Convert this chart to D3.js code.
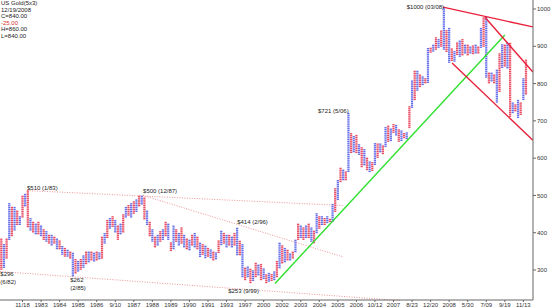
<!DOCTYPE html>
<html>
<head>
<meta charset="utf-8">
<script src="https://cdn.jsdelivr.net/npm/d3@7"></script>
<style>
  body { margin: 0; background: #fff; }
  svg { display: block; font-family: "Liberation Sans", Arial, sans-serif; }
  .info { font-size: 6px; fill: #222; }
  .tick-label { font-size: 6px; fill: #333; }
  .note { font-size: 6px; fill: #222; }
</style>
</head>
<body>
<div id="chart"></div>
<script>
// --- DONNÉES ---
const title = "US Gold(5x3)";
const infoLines = ["12/19/2008", "C=840.00", "-25.00", "H=860.00", "L=840.00"];

// bas / haut de chaque colonne (X et O alternés, la première est un O)
const colLow = [300,305,330,380,390,405,420,420,440,470,414,405,400,395,395,390,380,375,370,365,
  370,355,355,340,335,335,330,282,290,295,300,305,315,320,325,322,325,328,330,370,
  385,410,415,400,380,395,400,440,445,440,450,455,470,475,435,420,390,375,360,365,
  375,380,390,380,350,355,375,365,370,360,355,352,365,360,355,334,340,331,335,331,
  325,328,345,366,370,360,365,360,365,339,339,280,272,280,264,270,280,285,272,275,
  264,268,270,272,280,304,317,320,325,325,330,347,380,385,380,385,385,375,371,398,
  410,420,420,425,428,428,455,487,535,540,540,562,613,615,613,608,575,580,567,562,
  565,581,600,615,610,629,643,645,667,660,643,645,653,650,680,734,755,780,790,795,
  800,801,882,885,890,895,898,890,884,855,860,858,876,871,875,880,875,880,878,880,
  880,895,898,815,800,805,800,748,777,841,845,840,710,720,725,707,715,755,770];
const colHigh = [385,370,385,480,470,470,460,445,500,505,513,438,430,425,430,420,410,405,395,395,
  392,385,380,365,358,355,350,345,330,325,330,340,350,350,352,345,350,348,390,400,
  435,440,445,435,420,425,450,470,475,480,485,490,500,500,495,460,430,410,390,395,
  405,410,430,425,375,420,410,400,414,395,385,380,395,400,390,374,370,366,360,358,
  352,350,380,406,400,393,395,390,400,414,380,371,307,310,304,300,320,315,317,305,
  290,292,290,295,325,374,366,360,355,347,350,380,425,420,415,418,425,415,406,452,
  445,446,440,445,440,479,522,540,573,570,567,723,667,660,665,640,629,625,602,594,
  590,643,640,640,635,683,688,680,694,690,680,675,669,672,742,809,836,836,823,820,
  815,898,898,905,925,920,943,1005,943,948,895,890,911,915,922,905,905,900,902,905,
  900,948,976,978,830,830,825,836,884,908,905,908,908,750,745,755,750,817,863];

const boxSize = 5;

// étiquettes de l'axe des dates (une toutes les 7 colonnes)
const dateLabels = ["11/18","1983","1984","1985","1986","9/10","1987","1988","1989","1990",
  "1991","1993","1997","2000","2002","2003","2004","2005","2006","10/12","2007","8/23",
  "12/20","2008","5/30","7/09","9/19","11/13"];
const priceTicks = [300, 400, 500, 600, 700, 800, 900, 1000];

// lignes de tendance : [colonne, prix]
const greenLine = [[103.3, 264], [190, 930]];
const redLines = [
  [[166.7, 1005], [200.6, 952]],
  [[170.1, 855], [200.6, 648]],
  [[182.5, 978], [200.6, 831]]
];
const dottedLines = [
  [[9.7, 513], [129, 473]],
  [[53.5, 500], [129, 335]],
  [[-0.5, 296], [150.5, 218]]
];

// étiquettes des sommets et creux : [colonne, prix, texte, décalage]
const notes = [
  { col: 0, v: 296, lines: ["$296", "(6/82)"], dx: -1, dy: 5 },
  { col: 9.7, v: 513, lines: ["$510 (1/83)"], dx: 0, dy: -1 },
  { col: 26, v: 262, lines: ["$262", "(2/85)"], dx: 0, dy: -2 },
  { col: 53.5, v: 500, lines: ["$500 (12/87)"], dx: 0, dy: -2 },
  { col: 89, v: 414, lines: ["$414 (2/96)"], dx: 0, dy: -3 },
  { col: 86, v: 253, lines: ["$253 (9/99)"], dx: -1, dy: 5.5 },
  { col: 119.5, v: 721, lines: ["$721  (5/06)"], dx: 0, dy: 0 },
  { col: 153, v: 1000, lines: ["$1000 (03/08)"], dx: 0, dy: 0 }
];

// --- CONFIGURATION ---
const width = 554, height = 308;
const axisX = 533, axisY = 300;

const svg = d3.select("#chart").append("svg")
  .attr("width", width)
  .attr("height", height);

const x = d3.scaleLinear().domain([0, 199]).range([1.3, 528.65]);
const y = d3.scaleLinear().domain([300, 1000]).range([270, 9]);
const colW = x(1) - x(0);
const boxH = Math.abs(y(0) - y(boxSize));

// --- COLONNES (points & figures) ---
const columns = colLow.map((lo, i) => ({ i, lo, hi: colHigh[i], type: i % 2 === 0 ? "O" : "X" }));

const cells = [];
columns.forEach(c => {
  const n = Math.max(1, Math.round((c.hi - c.lo) / boxSize));
  for (let j = 0; j < n; j++) cells.push({ i: c.i, type: c.type, v: c.lo + j * boxSize });
});

svg.append("g")
  .selectAll("rect")
  .data(cells)
  .join("rect")
  .attr("x", d => x(d.i) - colW / 2 + 0.2)
  .attr("width", colW - 0.4)
  .attr("y", d => y(d.v + boxSize) + 0.25)
  .attr("height", boxH - 0.5)
  .attr("fill", d => d.type === "X" ? "#6670ea" : "#ea4c62");

// --- LIGNES DE TENDANCE ---
const line = d3.line().x(d => x(d[0])).y(d => y(d[1]));

svg.append("g")
  .selectAll("path")
  .data(dottedLines)
  .join("path")
  .attr("d", line)
  .attr("fill", "none")
  .attr("stroke", "#e87a80")
  .attr("stroke-width", 0.8)
  .attr("stroke-dasharray", "1,1.5");

svg.append("path")
  .datum(greenLine)
  .attr("d", line)
  .attr("fill", "none")
  .attr("stroke", "#2ee02e")
  .attr("stroke-width", 1.4);

svg.append("g")
  .selectAll("path")
  .data(redLines)
  .join("path")
  .attr("d", line)
  .attr("fill", "none")
  .attr("stroke", "#e8203a")
  .attr("stroke-width", 1.4);

// --- AXES ---
const yAxis = svg.append("g").attr("transform", `translate(${axisX},0)`);
yAxis.append("line").attr("y1", 0).attr("y2", axisY).attr("stroke", "#666");
yAxis.selectAll("g")
  .data(priceTicks)
  .join("g")
  .attr("transform", d => `translate(0,${y(d)})`)
  .call(g => g.append("line").attr("x2", 3).attr("stroke", "#666"))
  .call(g => g.append("text").attr("class", "tick-label").attr("x", 4).attr("dy", "0.35em").text(d => d));

const xAxis = svg.append("g").attr("transform", `translate(0,${axisY})`);
xAxis.append("line").attr("x1", 0).attr("x2", axisX).attr("stroke", "#666");
xAxis.selectAll("g")
  .data(dateLabels)
  .join("g")
  .attr("transform", (d, k) => `translate(${x(8 + 7 * k)},0)`)
  .call(g => g.append("line").attr("y2", 2).attr("stroke", "#666"))
  .call(g => g.append("text").attr("class", "tick-label").attr("y", 7).attr("text-anchor", "middle").text(d => d));

// --- ANNOTATIONS ---
notes.forEach(n => {
  const tx = x(n.col) + n.dx;
  const t = svg.append("text").attr("class", "note")
    .attr("x", tx).attr("y", y(n.v) + n.dy);
  n.lines.forEach((l, k) => t.append("tspan").attr("x", tx).attr("dy", k === 0 ? 0 : 7.5).text(l));
});

// --- TITRE ---
const info = svg.append("text").attr("class", "info").attr("x", 1).attr("y", 5);
info.append("tspan").attr("x", 1).text(title);
infoLines.forEach(l => info.append("tspan").attr("x", 1).attr("dy", 6.5)
  .attr("fill", l.startsWith("-") ? "#e03030" : null).text(l));
</script>
</body>
</html>
